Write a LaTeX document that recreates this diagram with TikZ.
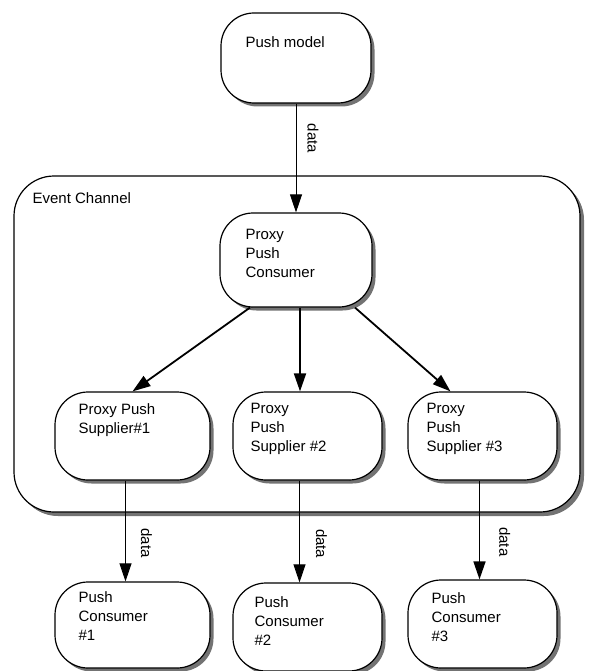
\documentclass[tikz,border=0pt]{standalone}
\usepackage{fontspec}
\setmainfont{Liberation Sans}
\usetikzlibrary{positioning,shadows,arrows.meta}

\begin{document}
\begin{tikzpicture}[
    x=1pt,y=-1pt,
    font=\fontsize{15}{19}\selectfont,
    boxshadow/.style={drop shadow={shadow xshift=3.5pt,shadow yshift=-3.5pt,fill=black!55,opacity=1}},
    box/.style={rectangle,draw,line width=1.2pt,fill=white,rounded corners=33pt,minimum height=88pt,inner sep=0pt,boxshadow},
    channel/.style={box,rounded corners=40pt,drop shadow={shadow xshift=4pt,shadow yshift=-4pt,fill=black!55,opacity=1}},
    boxtext/.style={anchor=north west,align=left,inner sep=0pt},
    flow/.style={-{Triangle[length=18pt,width=12pt]},line width=0.9pt},
    bigflow/.style={-{Triangle[length=18pt,width=12pt]},line width=1.8pt},
    datalabel/.style={sloped,above=#1,inner sep=0pt},
    datalabel/.default=12pt
  ]
  \useasboundingbox (0,0) rectangle (595,671);

  % event channel frame
  \node(ec) [channel,minimum width=566pt,minimum height=336pt] at (297,344) {};
  \node(ect) [boxtext] at ([xshift=19pt,yshift=-17pt]ec.north west) {Event Channel};

  \node(pm) [box,minimum width=150pt,minimum height=90pt] at (296,58) {};
  \node(pmt) [boxtext] at ([xshift=25pt,yshift=-24pt]pm.north west) {Push model};

  \node(ppc) [box,minimum width=152pt,minimum height=94pt] at (296,260) {};
  \node(ppct) [boxtext] at ([xshift=26pt,yshift=-17pt]ppc.north west) {Proxy\\Push\\Consumer};

  % suppliers
  \node(s1) [box,minimum width=155pt] at (132.5,436) {};
  \node(s1t) [boxtext] at ([xshift=24pt,yshift=-12pt]s1.north west) {Proxy Push\\Supplier\#1};

  \node(s2) [box,minimum width=149pt] at (307.5,436) {};
  \node(s2t) [boxtext] at ([xshift=18pt,yshift=-12pt]s2.north west) {Proxy\\Push\\Supplier \#2};

  \node(s3) [box,minimum width=149pt] at (482.5,436) {};
  \node(s3t) [boxtext] at ([xshift=19pt,yshift=-12pt]s3.north west) {Proxy\\Push\\Supplier \#3};

  % consumers
  \node(c1) [box,minimum width=155pt,minimum height=86pt] at (132.5,625) {};
  \node(c1t) [boxtext] at ([xshift=24pt,yshift=-10pt]c1.north west) {Push\\Consumer\\\#1};

  \node(c2) [box,minimum width=149pt] at (307.5,627) {};
  \node(c2t) [boxtext] at ([xshift=22pt,yshift=-14pt]c2.north west) {Push\\Consumer\\\#2};

  \node(c3) [box,minimum width=149pt] at (482.5,624) {};
  \node(c3t) [boxtext] at ([xshift=24pt,yshift=-13pt]c3.north west) {Push\\Consumer\\\#3};

  \draw[flow] (pm.south) -- (pm.south |- ppc.north) node[datalabel=11pt,pos=0.32] (d0) {data};

  \draw[bigflow] ([xshift=-46pt]ppc.south) -- (s1.north);
  \draw[bigflow] ([xshift=4pt]ppc.south) -- ([xshift=4pt]ppc.south |- s2.north);
  \draw[bigflow] ([xshift=59pt]ppc.south) -- ([xshift=-32pt]s3.north);

  \draw[flow] ([xshift=-7pt]s1.south) -- ([xshift=-7pt]s1.south |- c1.north) node[datalabel=15pt,pos=0.62] (d1) {data};
  \draw[flow] ([xshift=-8pt]s2.south) -- ([xshift=-8pt]s2.south |- c2.north) node[datalabel=16pt,pos=0.62] (d2) {data};
  \draw[flow,line width=1.6pt] ([xshift=-3pt]s3.south) -- ([xshift=-3pt]s3.south |- c3.north) node[datalabel=19pt,pos=0.62] (d3) {data};

\end{tikzpicture}
\end{document}
